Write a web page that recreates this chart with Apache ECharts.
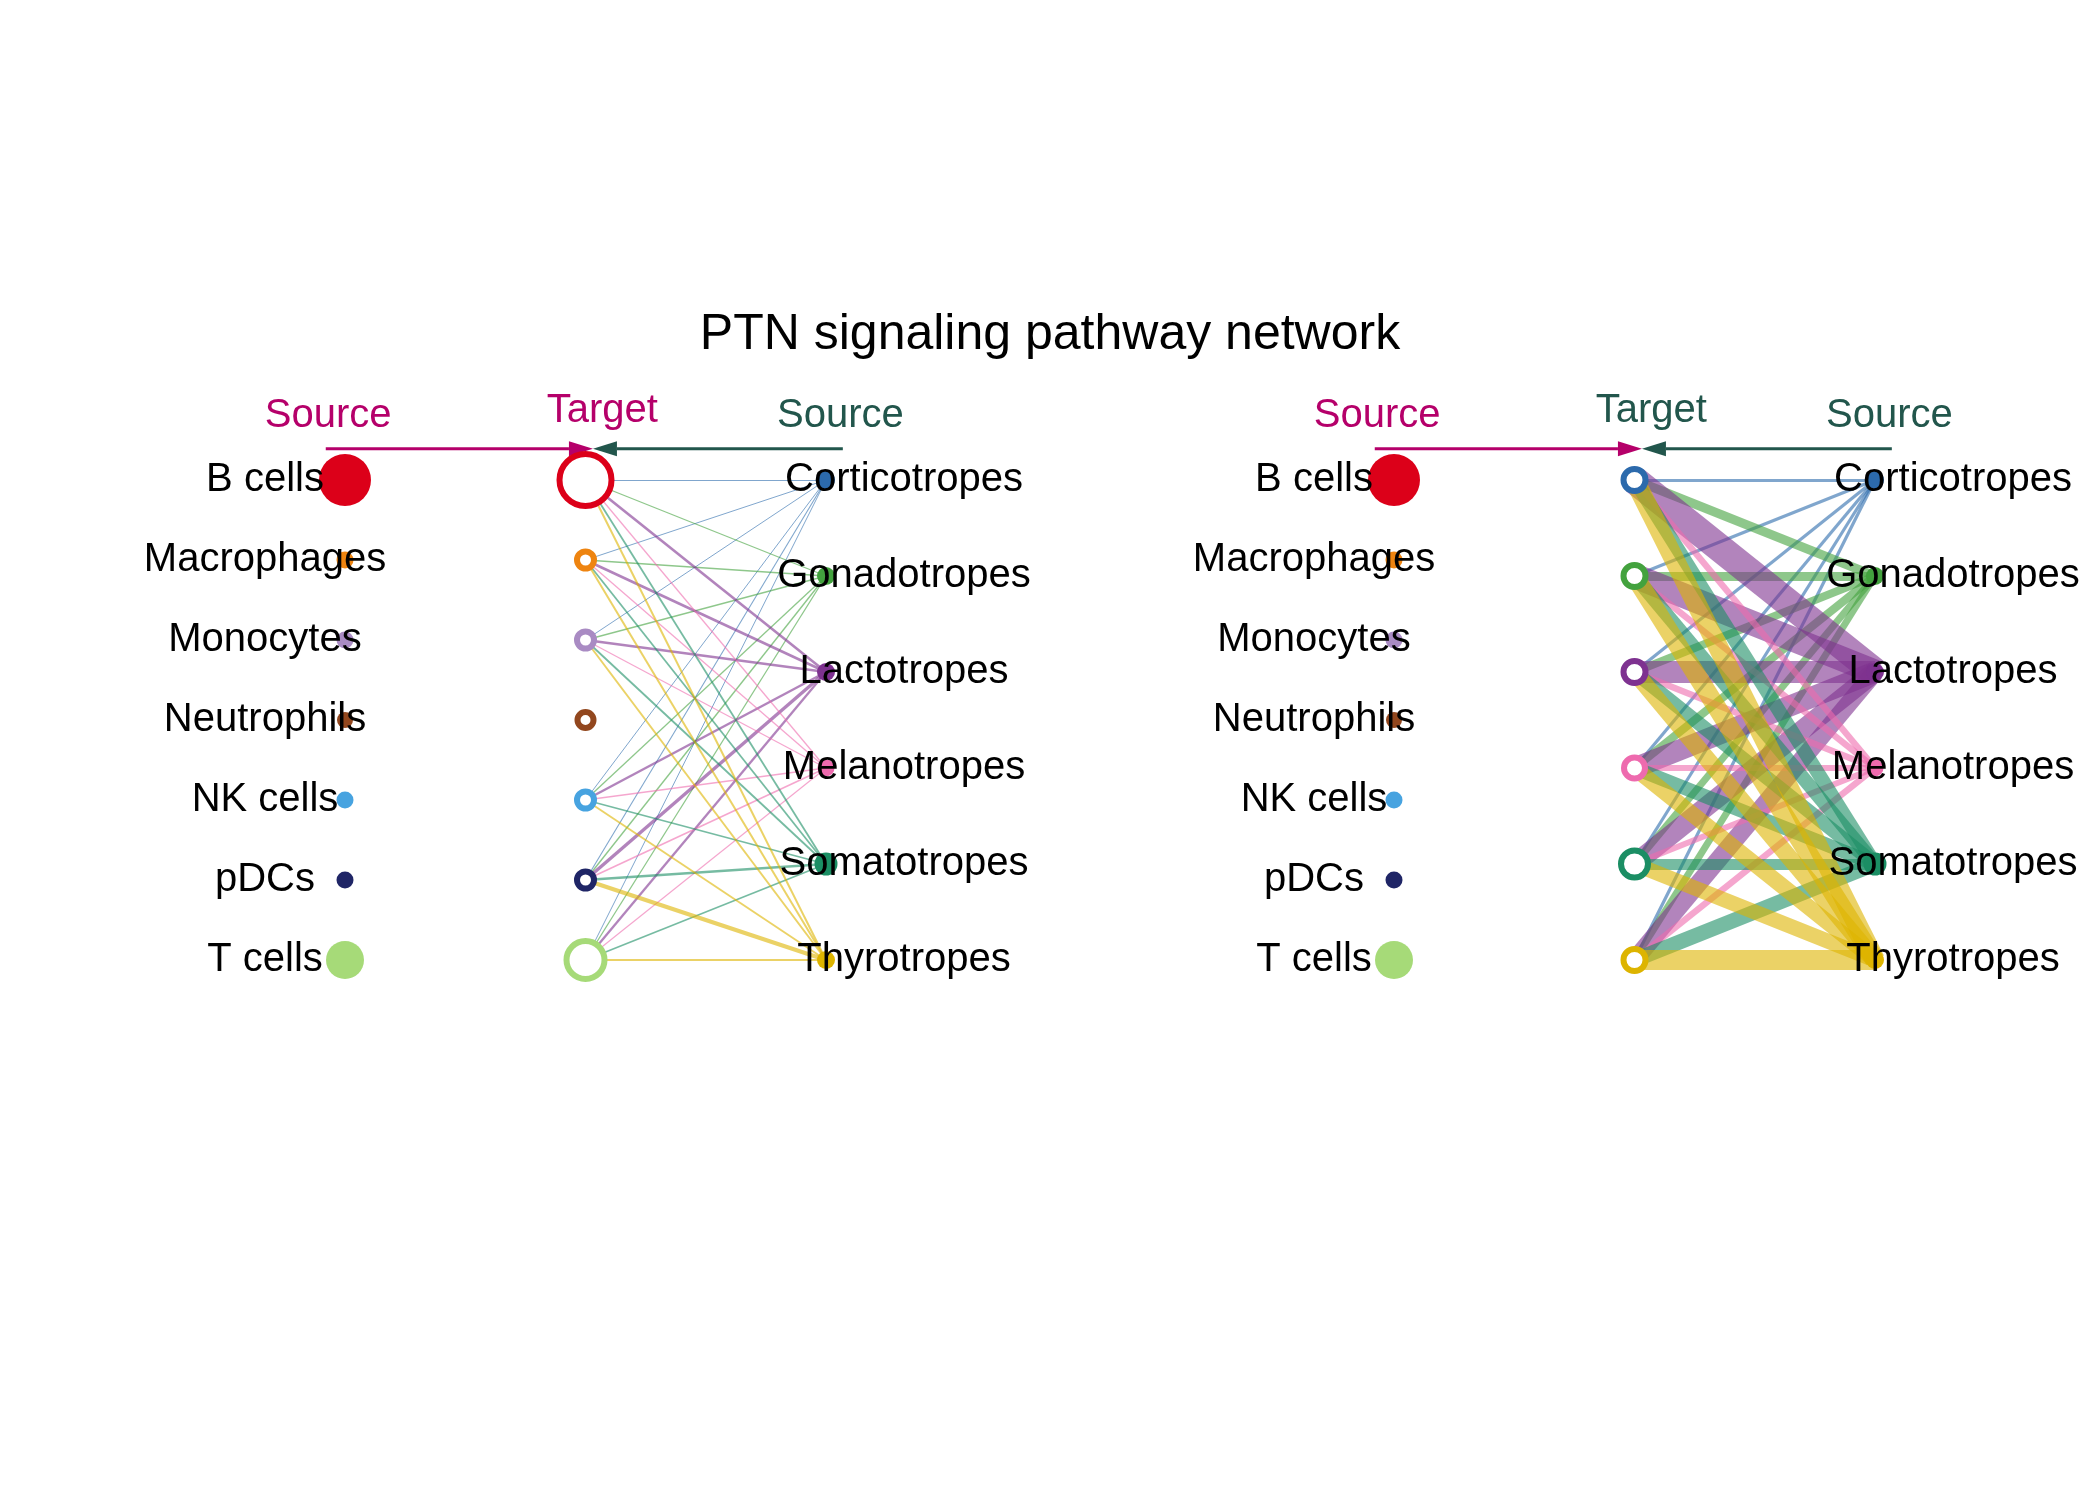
<!DOCTYPE html>
<html>
<head>
<meta charset="utf-8">
<title>PTN signaling pathway network</title>
<script src="https://cdn.jsdelivr.net/npm/echarts@6/dist/echarts.min.js"></script>
<style>
  html, body { margin: 0; padding: 0; background: #fff; }
  #chart-container { width: 2100px; height: 1500px; }
</style>
</head>
<body>
<div id="chart-container"></div>
<script>
var dom = document.getElementById('chart-container');
var myChart = echarts.init(dom, null, { renderer: 'canvas' });

// immune cells (receivers on the left hierarchy)
var immuneCells = ['B cells', 'Macrophages', 'Monocytes', 'Neutrophils', 'NK cells', 'pDCs', 'T cells'];
var immuneColors = ['#DC0019', '#EE8410', '#A98BC3', '#92471E', '#47A3E0', '#1F2566', '#A6DA78'];
var immuneSizes = [52, 17, 17, 16, 17, 17, 38];

// endocrine cells (senders)
var endoCells = ['Corticotropes', 'Gonadotropes', 'Lactotropes', 'Melanotropes', 'Somatotropes', 'Thyrotropes'];
var endoColors = ['#2C6AAC', '#43A23E', '#7E3290', '#EE6AAE', '#1B8E64', '#DDB400'];
var endoSizes = [18, 18, 18, 17, 23, 18];

// edge weights, rows = sender (endoCells), cols = receiver (immuneCells)
var weightsImmune = [
    [1.0, 1.0, 1.0, 0, 1.0, 1.1, 1.0],
    [1.3, 1.3, 1.3, 0, 1.3, 1.4, 1.3],
    [2.6, 2.6, 2.6, 0, 2.4, 3.4, 2.3],
    [1.3, 1.3, 1.3, 0, 1.3, 1.7, 1.2],
    [1.8, 1.8, 1.8, 0, 1.8, 2.7, 1.7],
    [2.0, 2.0, 2.0, 0, 1.9, 4.0, 2.0]
];
// rows = sender (endoCells), cols = receiver (endoCells)
var weightsEndo = [
    [3.2, 3.2, 3.2, 3.2, 3.2, 3.2],
    [9, 9, 8, 8, 7, 7],
    [28, 25, 22, 21, 20, 18],
    [6.5, 6.5, 6.5, 6, 6, 6.5],
    [14, 14, 14, 14, 11, 15],
    [20, 19, 17, 16, 15, 20]
];

var title = 'PTN signaling pathway network';
var FONT = '"Liberation Sans", Arial, Helvetica, sans-serif';
var MAGENTA = '#B5006A';
var TEAL = '#22564C';

var endoRow = function (j) {
    return j * (immuneCells.length - 1) / (endoCells.length - 1);
};

function srcNode(name, color, size, x, y) {
    return {
        name: 'n' + x + '_' + name,
        value: [x, y],
        symbolSize: size,
        itemStyle: { color: color },
        label: {
            show: true,
            position: 'inside',
            offset: [x === 0 ? -80 : 78, 0],
            formatter: name,
            fontSize: 40,
            color: '#000',
            fontFamily: FONT
        }
    };
}
function tgtNode(name, color, size, x, y) {
    return {
        name: 'n' + x + '_' + name,
        value: [x, y],
        symbolSize: size,
        itemStyle: { color: '#fff', borderColor: color, borderWidth: 6 },
        label: { show: false }
    };
}

// panel 1: endocrine -> immune
var nodes1 = [];
var links1 = [];
immuneCells.forEach(function (c, i) { nodes1.push(srcNode(c, immuneColors[i], immuneSizes[i], 0, i)); });
immuneCells.forEach(function (c, i) { nodes1.push(tgtNode(c, immuneColors[i], immuneSizes[i], 1, i)); });
endoCells.forEach(function (c, j) { nodes1.push(srcNode(c, endoColors[j], endoSizes[j], 2, endoRow(j))); });
weightsImmune.forEach(function (row, j) {
    row.forEach(function (w, i) {
        if (w > 0) {
            links1.push({
                source: 2 * immuneCells.length + j,
                target: immuneCells.length + i,
                lineStyle: { color: endoColors[j], width: w, opacity: 0.6 }
            });
        }
    });
});

// panel 2: endocrine -> endocrine
var nodes2 = [];
var links2 = [];
immuneCells.forEach(function (c, i) { nodes2.push(srcNode(c, immuneColors[i], immuneSizes[i], 0, i)); });
endoCells.forEach(function (c, j) { nodes2.push(tgtNode(c, endoColors[j], endoSizes[j] + 4, 1, endoRow(j))); });
endoCells.forEach(function (c, j) { nodes2.push(srcNode(c, endoColors[j], endoSizes[j], 2, endoRow(j))); });
weightsEndo.forEach(function (row, j) {
    row.forEach(function (w, k) {
        if (w > 0) {
            links2.push({
                source: immuneCells.length + endoCells.length + j,
                target: immuneCells.length + k,
                lineStyle: { color: endoColors[j], width: w, opacity: 0.6 }
            });
        }
    });
});

function axisX(i) {
    return { gridIndex: i, type: 'value', min: 0, max: 2, show: false };
}
function axisY(i) {
    return { gridIndex: i, type: 'value', min: 0, max: 6, inverse: true, show: false };
}
function graphSeries(i, nodes, links) {
    return {
        type: 'graph',
        coordinateSystem: 'cartesian2d',
        xAxisIndex: i,
        yAxisIndex: i,
        symbol: 'circle',
        silent: true,
        animation: false,
        emphasis: { disabled: true },
        lineStyle: { curveness: 0 },
        data: nodes,
        links: links
    };
}

var option = {
    backgroundColor: '#fff',
    animation: false,
    title: {
        text: title,
        left: 'center',
        top: 305,
        textStyle: { fontSize: 50, fontWeight: 'normal', color: '#000', fontFamily: FONT }
    },
    grid: [
        { left: 345, top: 480, width: 481, height: 480 },
        { left: 1394, top: 480, width: 481, height: 480 }
    ],
    xAxis: [axisX(0), axisX(1)],
    yAxis: [axisY(0), axisY(1)],
    series: [graphSeries(0, nodes1, links1), graphSeries(1, nodes2, links2)]
};

myChart.setOption(option);

// Source / Target headers with arrows, placed in each panel's data space
var headerColors = [
    [MAGENTA, MAGENTA, TEAL],
    [MAGENTA, TEAL, TEAL]
];
var graphics = [];
[0, 1].forEach(function (g) {
    var px = function (x, y) { return myChart.convertToPixel({ gridIndex: g }, [x, y]); };
    var cols = headerColors[g];
    var s1 = px(-0.07, -0.80), t = px(1.07, -0.866), s2 = px(2.06, -0.80);
    [[s1, 'Source', cols[0]], [t, 'Target', cols[1]], [s2, 'Source', cols[2]]].forEach(function (h) {
        graphics.push({
            type: 'text', silent: true,
            style: {
                x: h[0][0], y: h[0][1], text: h[1], fill: h[2],
                font: '40px ' + FONT, textAlign: 'center', textVerticalAlign: 'middle'
            }
        });
    });
    var a0 = px(-0.08, -0.39), tip = px(1.031, -0.39), a1 = px(2.07, -0.39);
    var head = 24, half = 7.5;
    graphics.push({
        type: 'line', silent: true,
        shape: { x1: a0[0], y1: a0[1], x2: tip[0] - head, y2: tip[1] },
        style: { stroke: MAGENTA, lineWidth: 3 }
    });
    graphics.push({
        type: 'polygon', silent: true,
        shape: { points: [[tip[0], tip[1]], [tip[0] - head, tip[1] - half], [tip[0] - head, tip[1] + half]] },
        style: { fill: MAGENTA }
    });
    graphics.push({
        type: 'line', silent: true,
        shape: { x1: a1[0], y1: a1[1], x2: tip[0] + head, y2: tip[1] },
        style: { stroke: TEAL, lineWidth: 3 }
    });
    graphics.push({
        type: 'polygon', silent: true,
        shape: { points: [[tip[0], tip[1]], [tip[0] + head, tip[1] - half], [tip[0] + head, tip[1] + half]] },
        style: { fill: TEAL }
    });
});
myChart.setOption({ graphic: graphics });

window.addEventListener('resize', myChart.resize);
</script>
</body>
</html>
